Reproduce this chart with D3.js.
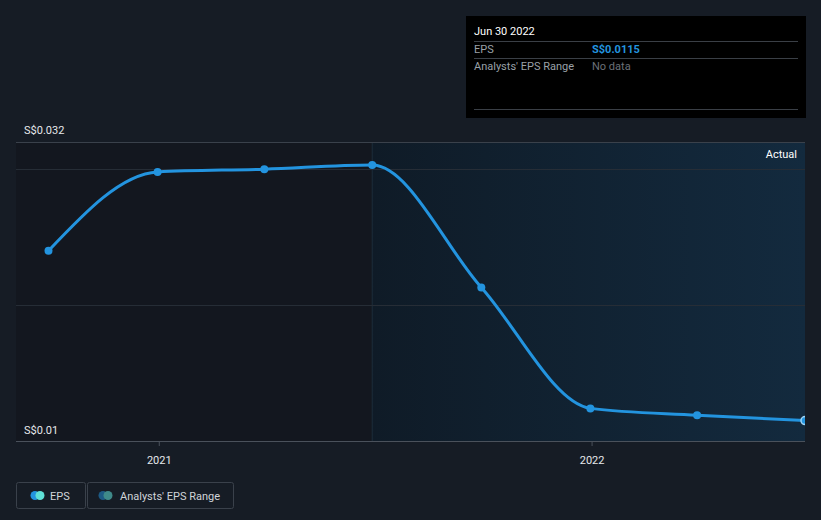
<!DOCTYPE html>
<html><head><meta charset="utf-8">
<script src="https://cdn.jsdelivr.net/npm/d3@7"></script>
<style>
html,body{margin:0;padding:0;background:#161c25;}
svg{display:block;font-family:Roboto,"Noto Sans",sans-serif;}
</style></head>
<body><svg id="c" width="821" height="520"></svg>
<script>
const dates = ["2020-09-30","2020-12-31","2021-03-31","2021-06-30","2021-09-30","2021-12-31","2022-03-31","2022-06-30"];
const eps = [0.0240, 0.0298, 0.0300, 0.0303, 0.0213, 0.0124, 0.0119, 0.0115];
const yTicks = [0.01, 0.02, 0.03];
const yLabels = ["S$0.01", "S$0.032"];
const xTickLabels = ["2021", "2022"];
const actualStart = "2021-06-30";
const tooltipDate = "Jun 30 2022";
const tooltipEps = "S$0.0115";

const svg = d3.select("#c");
const parse = d3.timeParse("%Y-%m-%d");
const data = dates.map((d,i)=>({date:parse(d), v:eps[i]}));
const L=16, R=805, T=142, B=441;
const x = d3.scaleTime().domain([parse("2020-09-30"), parse("2022-06-30")]).range([48.5, 805]);
const y = d3.scaleLinear().domain([0.01, 0.032]).range([B, T]);

const defs = svg.append("defs");
const g = defs.append("linearGradient").attr("id","act").attr("x1","0").attr("x2","1").attr("y1","0").attr("y2","0");
g.append("stop").attr("offset","0").attr("stop-color","#0f1b27");
g.append("stop").attr("offset","1").attr("stop-color","#132a3e");
defs.append("clipPath").attr("id","clip").append("rect").attr("x",L).attr("y",T-10).attr("width",R-L).attr("height",B-T+20);

const xa = x(parse(actualStart));
svg.append("rect").attr("x",L).attr("y",T).attr("width",xa-L).attr("height",B-T).attr("fill","#13171f");
svg.append("rect").attr("x",xa).attr("y",T).attr("width",R-xa).attr("height",B-T).attr("fill","url(#act)");
svg.append("line").attr("x1",xa).attr("x2",xa).attr("y1",T).attr("y2",B).attr("stroke","#1d2c3a").attr("stroke-width",1);

// gridlines
svg.append("line").attr("x1",L).attr("x2",R).attr("y1",T+0.5).attr("y2",T+0.5).attr("stroke","#3a414b");
yTicks.filter(t=>t>0.01).forEach(t=>{
  svg.append("line").attr("x1",L).attr("x2",R).attr("y1",Math.round(y(t))+0.5).attr("y2",Math.round(y(t))+0.5).attr("stroke","#262d36");
});

// y labels
svg.append("text").attr("x",24).attr("y",134).attr("fill","#e6e8eb").attr("font-size",11).text(yLabels[1]);
svg.append("text").attr("x",24).attr("y",434).attr("fill","#e6e8eb").attr("font-size",11).text(yLabels[0]);

// x axis
const xAxis = d3.axisBottom(x).tickValues([parse("2021-01-01"),parse("2022-01-01")]).tickFormat((d,i)=>xTickLabels[i]).tickSize(5).tickSizeOuter(0);
const ax = svg.append("g").attr("transform",`translate(0,${B})`).call(xAxis);
ax.select(".domain").remove();
ax.selectAll("line").attr("stroke","#4a515b");
ax.selectAll("text").attr("fill","#e6e8eb").attr("font-size",11).attr("dy","1.35em").attr("font-family","Roboto,sans-serif");
svg.append("line").attr("x1",L).attr("x2",R).attr("y1",B+0.5).attr("y2",B+0.5).attr("stroke","#4a515b");

svg.append("text").attr("x",797).attr("y",158).attr("text-anchor","end").attr("fill","#ffffff").attr("font-size",11).text("Actual");

// line
const line = d3.line().x(d=>x(d.date)).y(d=>y(d.v)).curve(d3.curveMonotoneX);
const pg = svg.append("g").attr("clip-path","url(#clip)");
pg.append("path").datum(data).attr("d",line).attr("fill","none").attr("stroke","#2394df").attr("stroke-width",3);
pg.selectAll("circle.p").data(data.slice(0,-1)).join("circle").attr("class","p")
  .attr("cx",d=>x(d.date)).attr("cy",d=>y(d.v)).attr("r",4).attr("fill","#2394df");
const last = data[data.length-1];
pg.append("circle").attr("cx",x(last.date)).attr("cy",y(last.v)).attr("r",4).attr("fill","#2394df").attr("stroke","#9fd3f5").attr("stroke-width",1.5);

// tooltip
const tt = svg.append("g");
tt.append("rect").attr("x",466).attr("y",16).attr("width",340).attr("height",102).attr("fill","#000000");
tt.append("text").attr("x",474).attr("y",35).attr("fill","#ffffff").attr("font-size",11).text(tooltipDate);
[41.5,58.5,109.5].forEach(yy=>tt.append("line").attr("x1",474).attr("x2",798).attr("y1",yy).attr("y2",yy).attr("stroke","#3a3f46"));
tt.append("text").attr("x",474).attr("y",53).attr("fill","#9aa0a8").attr("font-size",11).text("EPS");
tt.append("text").attr("x",592).attr("y",53).attr("fill","#2394df").attr("font-size",11).attr("font-weight","bold").text(tooltipEps);
tt.append("text").attr("x",474).attr("y",70).attr("fill","#9aa0a8").attr("font-size",11).text("Analysts' EPS Range");
tt.append("text").attr("x",592).attr("y",70).attr("fill","#6b7078").attr("font-size",11).text("No data");

// legend
const lg = svg.append("g");
lg.append("rect").attr("x",16.5).attr("y",482.5).attr("width",69).attr("height",26).attr("rx",2).attr("fill","none").attr("stroke","#3a414b");
lg.append("circle").attr("cx",35).attr("cy",495.5).attr("r",4.5).attr("fill","#2394df");
lg.append("circle").attr("cx",40).attr("cy",495.5).attr("r",4.5).attr("fill","#5fe0d6");
lg.append("text").attr("x",50).attr("y",499.5).attr("fill","#d0d4d9").attr("font-size",11).text("EPS");
lg.append("rect").attr("x",87.5).attr("y",482.5).attr("width",146).attr("height",26).attr("rx",2).attr("fill","none").attr("stroke","#3a414b");
lg.append("circle").attr("cx",103).attr("cy",495.5).attr("r",4.5).attr("fill","#1d5a85");
lg.append("circle").attr("cx",108).attr("cy",495.5).attr("r",4.5).attr("fill","#3f8a8a");
lg.append("text").attr("x",120).attr("y",499.5).attr("fill","#d0d4d9").attr("font-size",11).text("Analysts' EPS Range");
</script></body></html>
